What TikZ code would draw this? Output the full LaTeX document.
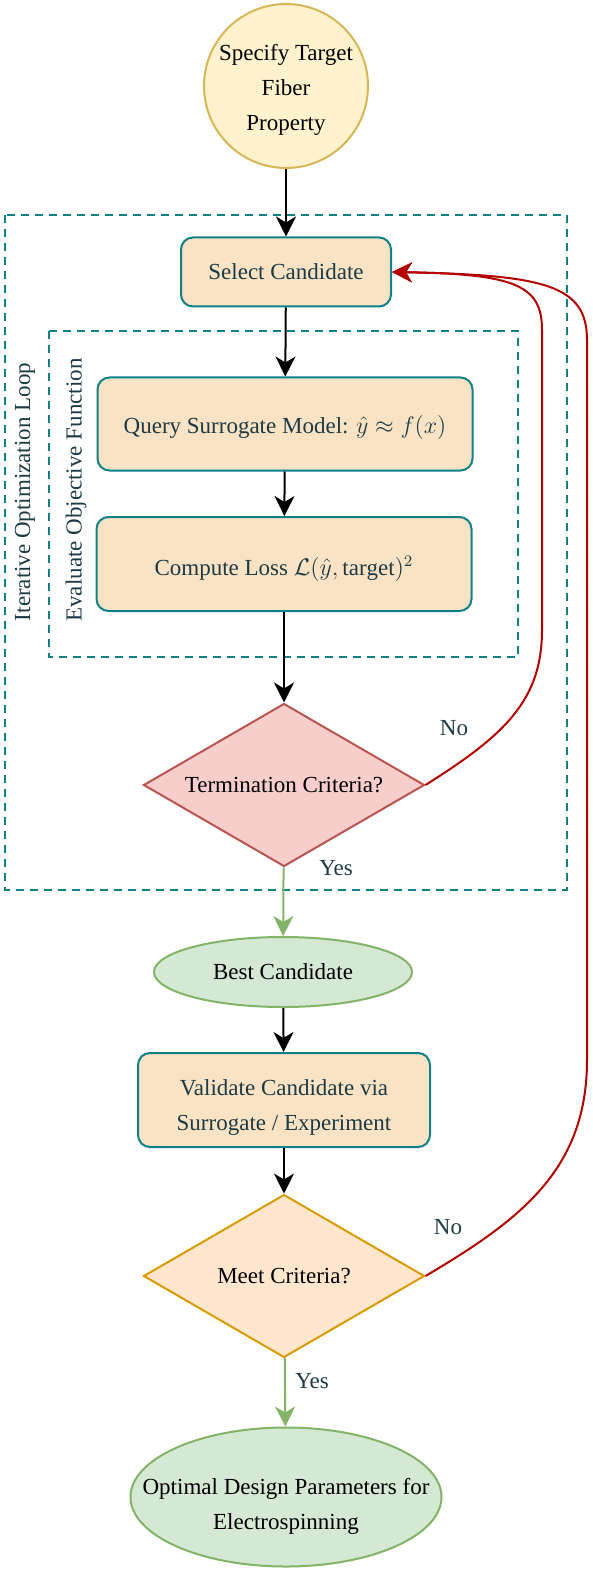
\documentclass[tikz,border=0pt]{standalone}
\usepackage{amsmath}
\usepackage{amssymb}
\usepackage{fontspec}
\setmainfont{Liberation Serif}
\usepackage{tikz}
\usepackage{xcolor}
\usetikzlibrary{shapes.geometric,arrows.meta}

\definecolor{tealline}{HTML}{0E8088}
\definecolor{peachfill}{HTML}{FAE3C5}
\definecolor{slatetext}{HTML}{1D3A44}
\definecolor{yellowfill}{HTML}{FFF2CC}
\definecolor{yellowline}{HTML}{D6B656}
\definecolor{redfill}{HTML}{F8CECC}
\definecolor{redline}{HTML}{B85450}
\definecolor{greenfill}{HTML}{D5E8D4}
\definecolor{greenline}{HTML}{82B366}
\definecolor{orangefill}{HTML}{FFE6CC}
\definecolor{orangeline}{HTML}{D79B00}
\definecolor{loopred}{HTML}{B20000}

\tikzset{
  stepbox/.style={rectangle, rounded corners=6pt, fill=peachfill, draw=tealline, line width=1pt, text=slatetext, align=center, inner sep=0pt},
  decision/.style={diamond, aspect=1.7, inner sep=0pt, line width=1pt, minimum width=140.5pt, minimum height=81.5pt},
  terminal/.style={ellipse, fill=greenfill, draw=greenline, line width=1pt, inner sep=0pt},
  flow/.style={line width=1pt, -{Stealth[length=10pt,width=10pt,inset=3pt]}},
  yesflow/.style={flow, draw=greenline, fill=greenline},
  loopback/.style={line width=1pt, draw=loopred, -{Stealth[length=10pt,width=10pt,inset=3pt]}, fill=none},
  groupframe/.style={draw=tealline, line width=1pt, dash pattern=on 4pt off 3pt},
  edgetext/.style={text=slatetext},
}

\begin{document}
\begin{tikzpicture}[x=0.5pt, y=-0.5pt, font=\fontsize{11.5}{17.5}\selectfont]
\useasboundingbox (0,0) rectangle (593,1572);

% loop frames
\draw[groupframe] (5,215) rectangle (567,890);
\draw[groupframe] (49,331) rectangle (518,657);
\node[text=slatetext, rotate=90] (looplabel) at (25,492) {Iterative Optimization Loop};
\node[text=slatetext, rotate=90] (evallabel) at (76,490) {Evaluate Objective Function};

% nodes
\node[circle, fill=yellowfill, draw=yellowline, line width=1pt, minimum size=82pt, inner sep=0pt,
  label={[align=center, yshift=-2pt]center:Specify Target\\Fiber\\Property}] (target) at (286,86) {};
\node[stepbox, minimum width=105pt, minimum height=34.5pt] (select) at (286,272) {Select Candidate};
\node[stepbox, minimum width=187.5pt, minimum height=46.5pt,
  label={[text=slatetext, yshift=-2pt]center:Query Surrogate Model: $\hat{y} \approx f(x)$}] (query) at (285,424) {};
\node[stepbox, minimum width=187.5pt, minimum height=47pt,
  label={[text=slatetext, yshift=-2.5pt]center:Compute Loss $\mathcal{L}(\hat{y}, \mathrm{target})^2$}] (loss) at (284,564) {};
\node[decision, fill=redfill, draw=redline] (term) at (284,785) {Termination Criteria?};
\node[terminal, minimum width=129pt, minimum height=35pt] (best) at (283,972) {Best Candidate};
\node[stepbox, minimum width=146pt, minimum height=47pt,
  label={[text=slatetext, align=center, yshift=-3.5pt]center:Validate Candidate via\\Surrogate / Experiment}] (validate) at (284,1100) {};
\node[decision, fill=orangefill, draw=orangeline] (meet) at (284,1276) {Meet Criteria?};
\node[terminal, minimum width=155.5pt, minimum height=69.5pt,
  label={[align=center, yshift=-4.5pt]center:Optimal Design Parameters for\\Electrospinning}] (optimal) at (286,1497) {};

% edges
\draw[flow] (target) -- (select);
\draw[flow] (select) -- (query);
\draw[flow] (query) -- (loss);
\draw[flow] (loss) -- (term);
\draw[yesflow] (term) -- (best);
\draw[flow] (best) -- (validate);
\draw[flow] (validate) -- (meet);
\draw[yesflow] (meet) -- (optimal);
\draw[loopback] (term.east) .. controls (505,735) and (542,700) .. (542,630) -- (542,330) .. controls (542,285) and (515,274) .. (select.east);
\draw[loopback] (meet.east) .. controls (520,1220) and (587,1170) .. (587,1060) -- (587,340) .. controls (587,285) and (545,275) .. (select.east);

% edge labels
\node[edgetext] (termno) at (454,728) {No};
\node[edgetext] (termyes) at (336,868) {Yes};
\node[edgetext] (meetno) at (448,1227) {No};
\node[edgetext] (meetyes) at (312,1381) {Yes};
\end{tikzpicture}
\end{document}
